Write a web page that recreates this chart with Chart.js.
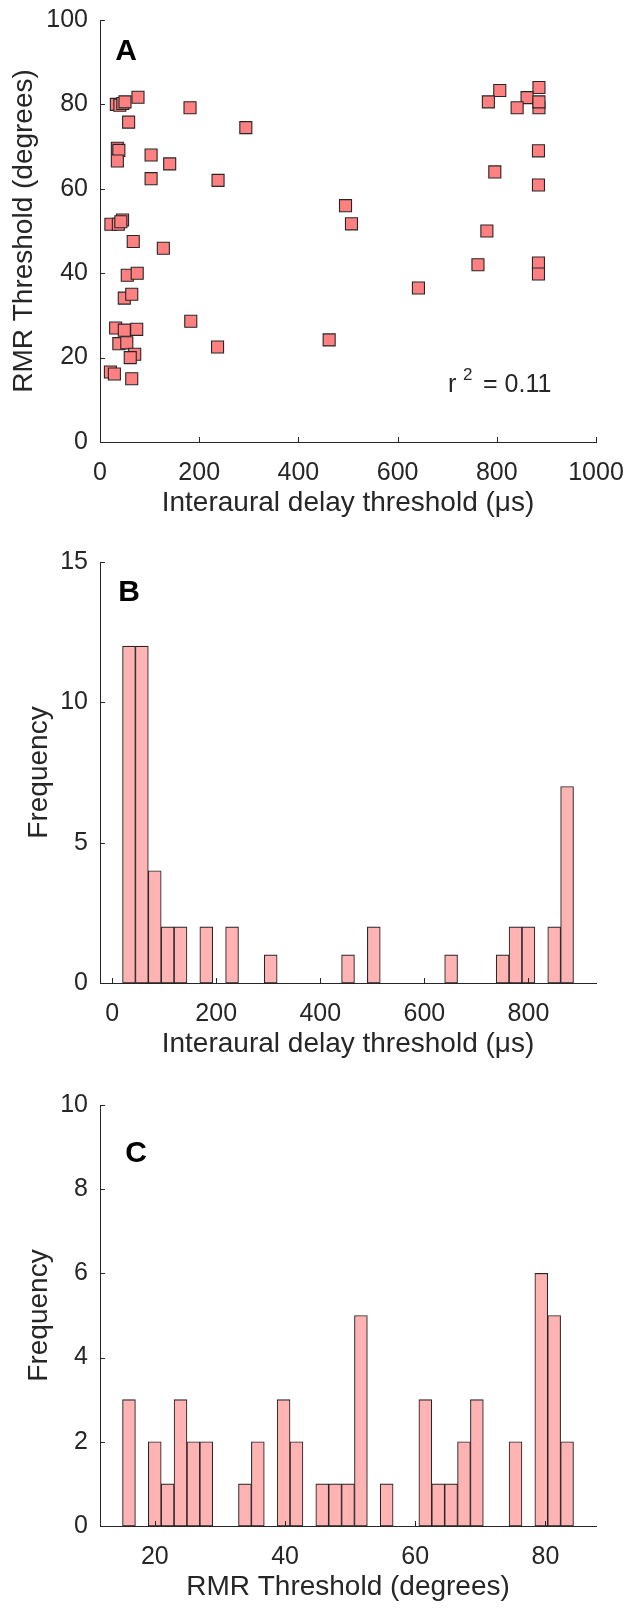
<!DOCTYPE html>
<html>
<head>
<meta charset="utf-8">
<script src="https://cdn.jsdelivr.net/npm/chart.js@4"></script>
<style>
  html, body { margin: 0; padding: 0; background: #fff; overflow: hidden; }
  body { width: 627px; height: 1608px; position: relative; }
  canvas { position: absolute; left: 0; }
</style>
</head>
<body>
<canvas id="panelA" width="627" height="522" style="top:0px"></canvas>
<canvas id="panelB" width="627" height="521" style="top:542px"></canvas>
<canvas id="panelC" width="627" height="521" style="top:1085px"></canvas>
<script>
// panel A: interaural delay threshold (us) vs RMR threshold (degrees), one entry per subject
const delayValues = [
    885, 806, 783, 861, 841, 885, 885, 884, 796, 884, 495, 507, 780, 762, 884, 884, 642, 462,
    294, 181.5, 238, 183, 237, 103, 140.5, 103, 127.7,
    33, 40, 46, 50.4, 76.6, 57.7, 35, 38, 35, 45.5, 22, 37, 42, 67, 55, 75, 49, 64,
    31.6, 49, 74, 38, 54, 70, 61, 21, 29, 64
];
const rmrValues = [
    84.0, 83.3, 80.6, 81.6, 79.2, 79.2, 80.6, 69.0, 64.0, 60.9, 56.0, 51.7, 50.0, 42.0, 42.4, 39.8, 36.5, 24.2,
    74.5, 79.2, 62.0, 28.6, 22.5, 68.0, 65.9, 62.4, 45.9,
    80.0, 79.8, 80.2, 80.6, 81.7, 75.8, 69.6, 69.1, 66.6, 52.6, 51.6, 51.6, 52.2, 47.5, 39.5, 40.0, 34.1, 35.0,
    27.0, 26.5, 26.7, 23.3, 23.5, 20.8, 20.0, 16.6, 16.1, 15.0
];
const rSquaredText = '0.11';

// panel B: histogram of delay thresholds, 35 bins
const delayBinStart = 20;
const delayBinWidth = 24.76;
const delayCounts = [12, 12, 4, 2, 2, 0, 2, 0, 2, 0, 0, 1, 0, 0, 0, 0, 0, 1, 0, 2,
    0, 0, 0, 0, 0, 1, 0, 0, 0, 1, 2, 2, 0, 2, 7];

// panel C: histogram of RMR thresholds, 35 bins
const rmrBinStart = 15.04;
const rmrBinWidth = 1.979;
const rmrCounts = [3, 0, 2, 1, 3, 2, 2, 0, 0, 1, 2, 0, 3, 2, 0, 1, 1, 1, 5, 0,
    1, 0, 0, 3, 1, 1, 2, 3, 0, 0, 2, 0, 6, 5, 2];

const ticksA_x = [0, 200, 400, 600, 800, 1000];
const ticksA_y = [0, 20, 40, 60, 80, 100];
const ticksB_x = [0, 200, 400, 600, 800];
const ticksB_y = [0, 5, 10, 15];
const ticksC_x = [20, 40, 60, 80];
const ticksC_y = [0, 2, 4, 6, 8, 10];

const axisColor = '#262626';
const fontFamily = '"Liberation Sans", Arial, Helvetica, sans-serif';
const tickFont = { family: fontFamily, size: 25 };
const titleFont = { family: fontFamily, size: 28 };

function binCenters(start, width, n) {
    const out = [];
    for (let i = 0; i < n; i++) out.push(start + width * (i + 0.5));
    return out;
}

// MATLAB style tick marks pointing into the plot
const inwardTicks = {
    id: 'inwardTicks',
    afterDatasetsDraw(chart) {
        const { ctx, chartArea, scales } = chart;
        ctx.save();
        ctx.strokeStyle = axisColor;
        ctx.lineWidth = 1;
        scales.x.ticks.forEach(t => {
            const px = Math.round(scales.x.getPixelForValue(t.value)) + 0.5;
            ctx.beginPath();
            ctx.moveTo(px, chartArea.bottom);
            ctx.lineTo(px, chartArea.bottom - 5);
            ctx.stroke();
        });
        scales.y.ticks.forEach(t => {
            const py = Math.round(scales.y.getPixelForValue(t.value)) + 0.5;
            ctx.beginPath();
            ctx.moveTo(chartArea.left, py);
            ctx.lineTo(chartArea.left + 5, py);
            ctx.stroke();
        });
        ctx.restore();
    }
};

// panel letter and the r^2 note
const panelText = {
    id: 'panelText',
    afterDraw(chart, args, opts) {
        const { ctx, chartArea } = chart;
        ctx.save();
        ctx.fillStyle = '#000';
        ctx.textAlign = 'center';
        ctx.textBaseline = 'middle';
        ctx.font = 'bold 30px ' + fontFamily;
        ctx.fillText(opts.letter, chartArea.left + opts.dx, chartArea.top + opts.dy);
        if (opts.r2) {
            ctx.fillStyle = axisColor;
            ctx.textAlign = 'left';
            ctx.textBaseline = 'alphabetic';
            const bx = chartArea.left + 348, by = chartArea.bottom - 50;
            ctx.font = '25px ' + fontFamily;
            ctx.fillText('r', bx, by);
            ctx.font = '17px ' + fontFamily;
            ctx.fillText('2', bx + 15, by - 12);
            ctx.font = '25px ' + fontFamily;
            ctx.fillText('= ' + opts.r2, bx + 35, by);
        }
        ctx.restore();
    }
};

function axisX(min, max, ticks, title) {
    return {
        type: 'linear',
        min: min,
        max: max,
        offset: false,
        afterBuildTicks: s => { s.ticks = ticks.map(v => ({ value: v })); },
        afterFit: s => { s.height = 80; s.paddingLeft = 0; s.paddingRight = 0; },
        grid: { display: false, drawTicks: false },
        border: { display: true, color: axisColor, width: 1 },
        ticks: { color: axisColor, font: tickFont, padding: 16, maxRotation: 0, autoSkip: false,
            callback: v => String(v) },
        title: { display: true, text: title, color: axisColor, font: titleFont, padding: { top: 0, bottom: 2 } }
    };
}

function axisY(min, max, ticks, title, titlePad) {
    return {
        type: 'linear',
        min: min,
        max: max,
        afterBuildTicks: s => { s.ticks = ticks.map(v => ({ value: v })); },
        afterFit: s => { s.width = 100; s.paddingTop = 0; s.paddingBottom = 0; },
        grid: { display: false, drawTicks: false },
        border: { display: true, color: axisColor, width: 1 },
        ticks: { color: axisColor, font: tickFont, padding: 12, callback: v => String(v) },
        title: { display: true, text: title, color: axisColor, font: titleFont, padding: { top: titlePad, bottom: 0 } }
    };
}

const baseOptions = {
    responsive: false,
    animation: false,
    layout: { padding: { left: 0, right: 31, top: 20, bottom: 0 } },
    plugins: { legend: { display: false }, tooltip: { enabled: false } }
};

new Chart(document.getElementById('panelA'), {
    type: 'scatter',
    data: {
        datasets: [{
            data: delayValues.map((x, i) => ({ x: x, y: rmrValues[i] })),
            pointStyle: 'rect',
            pointRadius: 8.5,
            backgroundColor: '#ff8080',
            borderColor: '#262626',
            borderWidth: 1.1
        }]
    },
    options: {
        ...baseOptions,
        scales: {
            x: axisX(0, 1000, ticksA_x, 'Interaural delay threshold (μs)'),
            y: axisY(0, 100, ticksA_y, 'RMR Threshold (degrees)', 7)
        },
        plugins: { ...baseOptions.plugins, panelText: { letter: 'A', dx: 26, dy: 32, r2: rSquaredText } }
    },
    plugins: [inwardTicks, panelText]
});

function histChart(id, start, width, counts, xmin, xmax, xt, ymax, yt, xtitle, letter, dx, dy) {
    const centers = binCenters(start, width, counts.length);
    return new Chart(document.getElementById(id), {
        type: 'bar',
        data: {
            datasets: [{
                data: centers.map((c, i) => ({ x: c, y: counts[i] })),
                backgroundColor: '#ffb3b3',
                borderColor: '#262626',
                borderWidth: 1.1,
                borderSkipped: false,
                barPercentage: 1,
                categoryPercentage: 1
            }]
        },
        options: {
            ...baseOptions,
            scales: {
                x: axisX(xmin, xmax, xt, xtitle),
                y: axisY(0, ymax, yt, 'Frequency', 22)
            },
            plugins: { ...baseOptions.plugins, panelText: { letter: letter, dx: dx, dy: dy } }
        },
        plugins: [inwardTicks, panelText]
    });
}

histChart('panelB', delayBinStart, delayBinWidth, delayCounts, -23.3, 929.8, ticksB_x, 15, ticksB_y,
    'Interaural delay threshold (μs)', 'B', 29, 31);
histChart('panelC', rmrBinStart, rmrBinWidth, rmrCounts, 11.58, 87.76, ticksC_x, 10, ticksC_y,
    'RMR Threshold (degrees)', 'C', 36, 49);
</script>
</body>
</html>
